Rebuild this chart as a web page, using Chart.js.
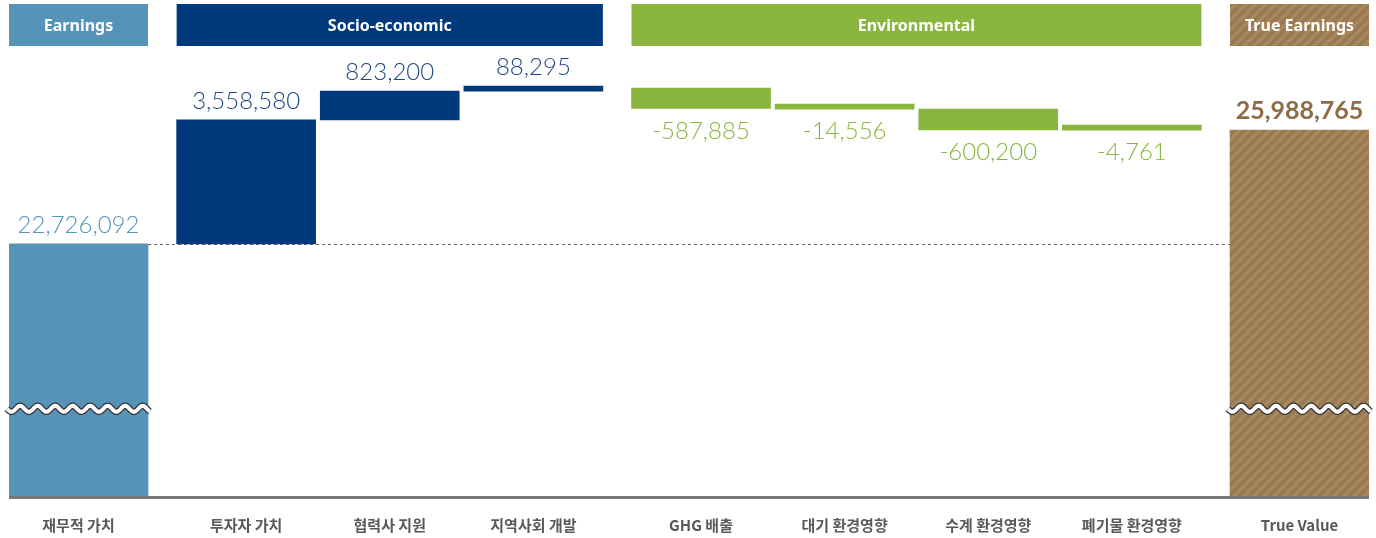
<!DOCTYPE html>
<html><head><meta charset="utf-8">
<script src="https://cdn.jsdelivr.net/npm/chart.js@4.4.1/dist/chart.umd.min.js"></script>
<style>html,body{margin:0;padding:0;background:#fff;}#wrap{width:1376px;height:538px;}</style>
</head><body><div id="wrap"><canvas id="c" width="1376" height="538"></canvas></div>
<script>
// ---- data ----
const categories = ['재무적 가치','투자자 가치','협력사 지원','지역사회 개발','GHG 배출','대기 환경영향','수계 환경영향','폐기물 환경영향','True Value'];
const groupNames = ['Earnings','Socio-economic','Environmental','True Earnings'];
const groupOfCategory = [0,1,1,1,2,2,2,2,3];
const earnings = 22726092;
const changes = [3558580, 823200, 88295, -587885, -14556, -600200, -4761];
const trueEarnings = 25988765;
const yAxisMin = 15500000, yAxisMax = 28000000, breakValue = 18000000;

// ---- styles ----
const groupColors = ['#5693b8','#003a7d','#8ab53f','#9b7a52'];
const labelColors = ['#5693b8','#1d4687','#8ab53f','#8d6c44'];

function hatch(){
  const s=10, c=document.createElement('canvas'); c.width=s; c.height=s;
  const g=c.getContext('2d'); g.fillStyle='#9b7a52'; g.fillRect(0,0,s,s);
  g.strokeStyle='#a78962'; g.lineWidth=3;
  g.beginPath(); g.moveTo(-1,s+1); g.lineTo(s+1,-1);
  g.moveTo(-s/2-1,s/2+1); g.lineTo(s/2+1,-s/2-1);
  g.moveTo(s/2-1,s*1.5+1); g.lineTo(s*1.5+1,s/2-1); g.stroke();
  return g.createPattern(c,'repeat');
}
const pattern = hatch();

// build floating ranges
const ranges=[[0,earnings]]; const values=[earnings];
let cum=earnings;
changes.forEach(v=>{ranges.push([cum,cum+v]); values.push(v); cum+=v;});
ranges.push([0,trueEarnings]); values.push(trueEarnings);

const GAP=0.167;
const pos=categories.map((_,i)=>i+groupOfCategory[i]*GAP);
const HALF=0.484;
const BAR=139;

const fill=i=>groupOfCategory[i]===3?pattern:groupColors[groupOfCategory[i]];
const fmt=v=>(v<0?'-':'')+Math.abs(v).toLocaleString('en-US');

const deco={
  id:'deco',
  beforeDatasetsDraw(chart){
    const {ctx,chartArea:a,scales:{x,y}}=chart;
    ctx.save();
    // dashed reference line at earnings level
    const yy=Math.round(y.getPixelForValue(earnings))+0.5;
    ctx.strokeStyle='#666'; ctx.lineWidth=1; ctx.setLineDash([3,3]);
    ctx.beginPath(); ctx.moveTo(x.getPixelForValue(pos[0])+BAR/2,yy);
    ctx.lineTo(x.getPixelForValue(pos[8])-BAR/2,yy); ctx.stroke();
    ctx.setLineDash([]);
    // header bands
    groupNames.forEach((name,gi)=>{
      const idx=categories.map((_,i)=>i).filter(i=>groupOfCategory[i]===gi);
      const x0=x.getPixelForValue(pos[idx[0]])-BAR/2, x1=x.getPixelForValue(pos[idx[idx.length-1]])+BAR/2;
      ctx.fillStyle=gi===3?pattern:groupColors[gi];
      ctx.fillRect(x0,4,x1-x0,42);
      ctx.fillStyle='#fff'; ctx.font='bold 16px "Noto Sans"'; ctx.textAlign='center'; ctx.textBaseline='middle';
      ctx.fillText(name,(x0+x1)/2,26);
    });
    ctx.restore();
  },
  afterDatasetsDraw(chart){
    const {ctx,chartArea:a,scales:{x,y}}=chart;
    const meta=chart.getDatasetMeta(0);
    ctx.save();
    // baseline
    ctx.strokeStyle='#777'; ctx.lineWidth=3;
    ctx.beginPath(); ctx.moveTo(a.left,a.bottom+1.5); ctx.lineTo(a.right,a.bottom+1.5); ctx.stroke();
    // breaks
    const by=y.getPixelForValue(breakValue);
    [0,8].forEach(i=>{
      const cx=x.getPixelForValue(pos[i]); const x0=cx-BAR/2-2, x1=cx+BAR/2+2;
      const path=new Path2D();
      for(let px=x0;px<=x1;px+=0.5){const py=by+3*Math.sin((px-x0)/17.5*2*Math.PI); if(px===x0)path.moveTo(px,py); else path.lineTo(px,py);}
      ctx.strokeStyle='#333'; ctx.lineWidth=6.5; ctx.stroke(path);
      ctx.strokeStyle='#fff'; ctx.lineWidth=4; ctx.stroke(path);
    });
    // value labels
    meta.data.forEach((el,i)=>{
      const g=groupOfCategory[i]; const v=values[i];
      const top=Math.min(el.y,el.base), bot=Math.max(el.y,el.base);
      ctx.fillStyle=labelColors[g]; ctx.textAlign='center'; ctx.textBaseline='alphabetic';
      ctx.font=(g===3?'bold 25px Lato':'300 24px Lato');
      if(v>=0) ctx.fillText(fmt(v),el.x,top-11);
      else ctx.fillText(fmt(v),el.x,bot+30);
    });
    // category labels
    ctx.fillStyle='#595959'; ctx.font='bold 15px "Noto Sans CJK KR"'; ctx.textBaseline='middle';
    categories.forEach((c,i)=>ctx.fillText(c,x.getPixelForValue(pos[i]),525));
    ctx.restore();
  }
};

new Chart(document.getElementById('c'),{
  type:'bar',
  data:{datasets:[{
    data:pos.map((p,i)=>({x:p,y:ranges[i]})),
    backgroundColor:categories.map((_,i)=>fill(i)),
    borderWidth:0, borderSkipped:false, barThickness:BAR, minBarLength:5
  }]},
  options:{
    responsive:false, animation:false, devicePixelRatio:1,
    layout:{padding:{left:9,right:7,top:60,bottom:42}},
    plugins:{legend:{display:false},tooltip:{enabled:false}},
    scales:{
      x:{type:'linear',display:false,offset:false,min:pos[0]-HALF,max:pos[8]+HALF},
      y:{display:false,min:yAxisMin,max:yAxisMax}
    }
  },
  plugins:[deco]
});
</script></body></html>
